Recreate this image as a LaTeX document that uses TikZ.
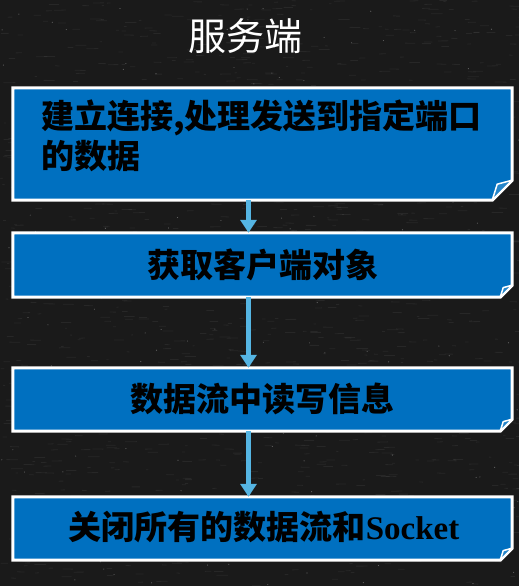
\documentclass[tikz,border=0pt]{standalone}
\usepackage{fontspec}
\setmainfont{Liberation Serif}
\newfontfamily\cjk{Noto Sans CJK SC}
\newfontfamily\tnr{Liberation Serif}
\usetikzlibrary{arrows.meta}
\definecolor{boxblue}{HTML}{0070C0}
\definecolor{arrblue}{HTML}{55B5E3}
\definecolor{board}{HTML}{1A1A1A}
\tikzset{
  boxarea/.style={inner sep=0pt, minimum width=499pt, minimum height=#1},
  boxshape/.style={draw=white, fill=boxblue, line width=3pt, line join=miter},
  foldshape/.style={draw=white, fill=boxblue!85!white, line width=1.5pt, line join=round},
  arr/.style={draw=arrblue, line width=5pt, -{Triangle[width=16pt,length=13pt]}},
  boxtext/.style={font=\cjk\bfseries\fontsize{33}{40}\selectfont, text=black, inner sep=0pt},
  titletext/.style={font=\cjk\fontsize{38}{44}\selectfont, text=white, inner sep=0pt}
}
\newcommand\foldbox[2]{%
  \filldraw[boxshape] (#1.north west) -- (#1.north east) -- ([yshift=#2pt]#1.south east)
    -- ([xshift=-#2pt]#1.south east) -- (#1.south west) -- cycle;
  \filldraw[foldshape] ([xshift=-#2pt]#1.south east) -- ([xshift=-0.75*#2pt,yshift=0.8*#2pt]#1.south east)
    -- ([yshift=#2pt]#1.south east) -- cycle;}
\begin{document}
\begin{tikzpicture}[x=1pt,y=-1pt]
\useasboundingbox (0,0) rectangle (519,586);
\fill[board] (0,0) rectangle (519,586);
% chalkboard texture
\pgfmathsetseed{7}
\foreach \i in {1,...,1400}{
  \pgfmathsetmacro\xx{259.5+259.5*rand}
  \pgfmathsetmacro\yy{293+293*rand}
  \pgfmathsetmacro\ll{2+10*rnd}
  \draw[white, opacity=0.06, line width=0.8pt] (\xx,\yy) -- ++(\ll,0.3*rand);
}
\foreach \i in {1,...,200}{
  \pgfmathsetmacro\xx{259.5+259.5*rand}
  \pgfmathsetmacro\yy{293+293*rand}
  \fill[white, opacity=0.3] (\xx,\yy) circle (0.6);
}
% title
\node[titletext] (title) at (245,36) {服务端};
% boxes
\node[boxarea=112pt] (b1) at (262.5,144) {};
\node[boxarea=64pt] (b2) at (262.5,265) {};
\node[boxarea=63pt] (b3) at (262.5,399.5) {};
\node[boxarea=63pt] (b4) at (262.5,528.5) {};
\foldbox{b1}{20}
\foldbox{b2}{12}
\foldbox{b3}{12}
\foldbox{b4}{12}
% texts
\node[boxtext, anchor=west, align=left] (t1) at (41,136) {建立连接,处理发送到指定端口\\的数据};
\node[boxtext] (t2) at (263,265) {获取客户端对象};
\node[boxtext] (t3) at (262,399) {数据流中读写信息};
\node[boxtext] (t4) at (264,527) {关闭所有的数据流和{\tnr\bfseries Socket}};
% arrows
\draw[arr] ([xshift=-14pt]b1.south) -- ([xshift=-14pt]b2.north);
\draw[arr] ([xshift=-14pt]b2.south) -- ([xshift=-14pt]b3.north);
\draw[arr] ([xshift=-14pt]b3.south) -- ([xshift=-14pt]b4.north);
\end{tikzpicture}
\end{document}
